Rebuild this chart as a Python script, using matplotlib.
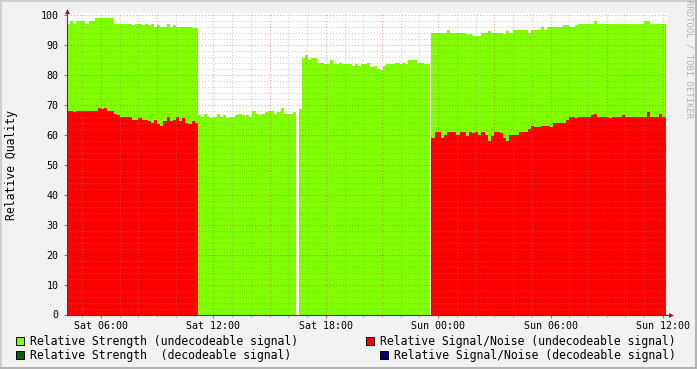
import numpy as np
import matplotlib
matplotlib.use("Agg")
import matplotlib.pyplot as plt
from matplotlib.patches import Rectangle

plt.rcParams['font.family'] = ['DejaVu Sans Mono']

# time in hours since Sat 00:00, samples every 10 minutes
step = 1 / 6
seg_start = [4.1667, 11.1667, 13.75, 16.55, 23.64]

strength1 = [97, 98, 97, 98, 98, 98, 97, 98, 98, 99, 99, 99, 99, 99, 99, 97, 97, 97, 97, 97, 97,
             96.5, 97, 97, 96.5, 97, 96.5, 97, 96, 96.5, 96, 96, 97, 96, 96.5, 96, 96, 96, 96, 96,
             95.5, 95.5]
snr1 = [68, 68, 67.5, 68, 68, 68, 68, 68, 68, 68, 69, 68.5, 69, 68, 68, 67, 66.5, 66, 66, 66, 66,
        65, 65, 65.5, 65, 65, 64.5, 64, 65, 63.5, 63, 64.5, 66, 64.5, 65, 66, 64.5, 65.5, 64, 63.5,
        64.5, 64]
strength2 = [66.5, 66, 67, 66, 65.5, 66, 67, 66, 66.5, 65.5, 66, 66, 66.5, 67, 66.5]
strength3 = [66.5, 66, 68, 67, 66.5, 67, 67.5, 68, 68, 67, 67.5, 69, 67, 67, 67, 67.5]
strength4 = [68.5, 85.5, 86.5, 85, 85.5, 85.5, 84, 84, 83.5, 83.5, 85, 83.5, 83.5, 84, 83.5, 83.5,
             83.5, 83, 83.5, 83, 83.5, 83.5, 84, 82.5, 83, 82, 81.5, 83, 83.5, 83.5, 83.5, 84, 83.5,
             84, 83.5, 85, 85, 85, 84, 84, 83.5, 83.5]
strength5 = [94, 94, 94, 94, 94, 95, 94, 94, 94, 94, 94, 93.5, 93.5, 93, 93, 93, 94, 94, 94.5, 94,
             94, 94, 94, 93.5, 94.5, 94, 95, 95, 95, 95, 95, 94, 95, 95, 95, 96, 95, 96, 96, 96,
             96, 96, 96.5, 96.5, 96, 96, 96.5, 97, 97, 97, 97, 97, 98, 97, 97, 97, 97, 97, 97, 97,
             97, 97, 97, 97, 97, 97, 97, 97, 98, 98, 97, 97, 97, 97, 97]
snr5 = [59, 61, 61, 59, 60, 61, 61, 61, 60, 61, 61, 59.5, 61, 60.5, 61, 60, 61, 60, 58, 59.5,
        61, 61, 60.5, 59, 58, 60, 60, 60, 61, 61, 61, 62, 63, 62.5, 62.5, 63, 63, 63, 62.5, 64,
        64, 64, 64, 65, 66, 66, 65.5, 66, 66, 66, 66, 66.5, 67, 66, 66, 66, 66, 65.5, 66, 66,
        66, 66.5, 66, 66, 66, 66, 66, 66, 66, 67.5, 66, 66, 66, 67, 66]

strength_segs = [strength1, strength2, strength3, strength4, strength5]
snr_segs = [(0, snr1), (4, snr5)]

tick_hours = [6, 12, 18, 24, 30, 36]
tick_labels = ['Sat 06:00', 'Sat 12:00', 'Sat 18:00', 'Sun 00:00', 'Sun 06:00', 'Sun 12:00']

legend_items = [
    ('#7FFF00', 'Relative Strength (undecodeable signal)', 15, 30, 341),
    ('#006400', 'Relative Strength  (decodeable signal)', 15, 30, 355),
    ('#FF0000', 'Relative Signal/Noise (undecodeable signal)', 365, 380, 341),
    ('#000080', 'Relative Signal/Noise (decodeable signal)', 379, 394, 355),
]

W, H = 697, 369
fig = plt.figure(figsize=(W / 100, H / 100), dpi=100, facecolor='#F2F2F2')

x0, x1 = 66.7, 667
y0, ytop = 314.5, 13.3
ax = fig.add_axes([x0 / W, (H - y0) / H, (x1 - x0) / W, (y0 - ytop) / H])
ax.set_facecolor('white')
ax.set_xlim(4.1667, 4.1667 + (x1 - x0) / 18.73)
ax.set_ylim(0, (y0 - ytop) / 2.995)

for start, vals in zip(seg_start, strength_segs):
    edges = start + step * np.arange(len(vals) + 1)
    ax.stairs(vals, edges, fill=True, color='#7FFF00', baseline=0, lw=0, zorder=1)
for k, vals in snr_segs:
    edges = seg_start[k] + step * np.arange(len(vals) + 1)
    ax.stairs(vals, edges, fill=True, color='#FF0000', baseline=0, lw=0, zorder=2)

# grid on top of the data, like rrdtool
for h in range(5, 37):
    if h % 3 == 0:
        ax.axvline(h, color='#C02020', alpha=0.4, lw=0.75, ls=(0, (1, 2)), zorder=3)
    else:
        ax.axvline(h, color='#8C8C8C', alpha=0.45, lw=0.75, ls=(0, (1, 2)), zorder=3)
for v in range(2, 101, 2):
    if v % 10 == 0:
        ax.axhline(v, color='#C02020', alpha=0.4, lw=0.75, ls=(0, (1, 2)), zorder=3)
    else:
        ax.axhline(v, color='#8C8C8C', alpha=0.45, lw=0.75, ls=(0, (1, 2)), zorder=3)

for s in ax.spines.values():
    s.set_visible(False)
ax.set_xticks(tick_hours)
ax.set_xticklabels(tick_labels)
ax.set_xticks(range(5, 37), minor=True)
ax.set_yticks(range(0, 101, 10))
ax.tick_params(axis='both', which='major', labelsize=7.2, length=2, color='#808080',
               labelcolor='#000000')
ax.tick_params(axis='x', which='major', pad=3)
ax.tick_params(axis='y', which='major', pad=4)
ax.tick_params(axis='x', which='minor', length=1.5, color='#A0A0A0')

# overlay in pixel coordinates for frame, arrows, legend
ov = fig.add_axes([0, 0, 1, 1], facecolor='none')
ov.set_xlim(0, W)
ov.set_ylim(H, 0)
ov.axis('off')

ov.plot([0, W], [1, 1], color='#CFCFCF', lw=1.5)
ov.plot([1, 1], [0, H], color='#CFCFCF', lw=1.5)
ov.plot([0, W], [H - 1.5, H - 1.5], color='#B4B4B4', lw=2.2)
ov.plot([W - 1, W - 1], [0, H], color='#B4B4B4', lw=1.5)

ov.plot([x0, x0], [y0, 11], color='#404040', lw=0.8)
ov.plot([x0, 670], [y0, y0], color='#404040', lw=0.8)
ov.plot([x0], [10.5], marker='^', color='#A01010', markersize=3.5, mec='none')
ov.plot([670.5], [y0], marker='>', color='#A01010', markersize=3.5, mec='none')

for color, label, sx, tx, cy in legend_items:
    ov.add_patch(Rectangle((sx + 0.5, cy - 4), 8, 8, facecolor=color, edgecolor='black', lw=0.7))
    ov.text(tx, cy, label, fontsize=8.3, ha='left', va='center', color='#000000')

ov.text(12, 165, 'Relative Quality', fontsize=8.3, rotation=90, ha='center', va='center')
ov.text(689, 59, 'RRDTOOL / TOBI OETIKER', fontsize=6.4, rotation=270, ha='center', va='center',
        color='#B0B0B0')

fig.savefig('out.png', dpi=100, facecolor=fig.get_facecolor())
